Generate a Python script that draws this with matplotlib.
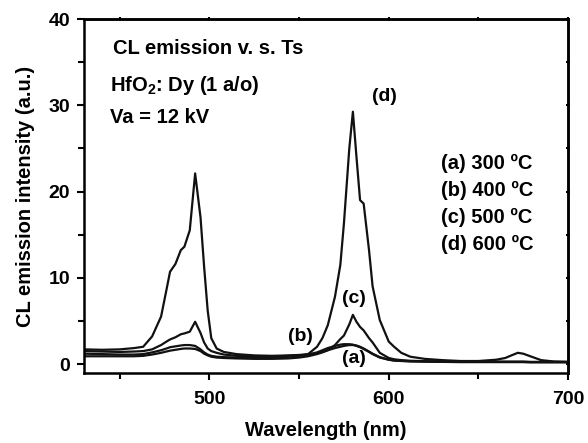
import matplotlib
matplotlib.use("Agg")
import matplotlib.pyplot as plt
from matplotlib.ticker import MultipleLocator, NullFormatter

plt.rcParams['font.family'] = ['Liberation Sans', 'DejaVu Sans']
plt.rcParams['font.weight'] = 'bold'
plt.rcParams['mathtext.fontset'] = 'custom'
plt.rcParams['mathtext.rm'] = 'Liberation Sans:bold'
plt.rcParams['mathtext.bf'] = 'Liberation Sans:bold'
plt.rcParams['mathtext.default'] = 'rm'

# Wavelength grid (nm)
wavelength = [430, 440, 450, 458, 463, 468, 473, 476, 478, 481, 484, 486, 489, 492,
              495, 497, 499, 501, 504, 508, 515, 525, 535, 544, 550, 555, 560, 563,
              566, 570, 573, 575, 578, 580, 582, 584, 586, 589, 591, 595, 600, 603,
              607, 612, 620, 630, 640, 650, 660, 665, 669, 672, 675, 679, 685, 692, 700]

# (a) 300 C
series_a = [0.9, 0.9, 0.9, 0.9, 0.95, 1.1, 1.3, 1.45, 1.55, 1.65, 1.75, 1.8, 1.8, 1.75,
            1.5, 1.2, 1.0, 0.85, 0.75, 0.7, 0.65, 0.6, 0.6, 0.65, 0.75, 0.9, 1.15, 1.35,
            1.6, 1.85, 2.0, 2.1, 2.2, 2.2, 2.15, 2.0, 1.8, 1.45, 1.2, 0.8, 0.5, 0.4,
            0.35, 0.3, 0.28, 0.25, 0.22, 0.22, 0.22, 0.22, 0.22, 0.22, 0.22, 0.2, 0.2, 0.2, 0.2]
# (b) 400 C
series_b = [1.2, 1.15, 1.1, 1.1, 1.15, 1.35, 1.6, 1.8, 1.95, 2.05, 2.15, 2.2, 2.2, 2.1,
            1.7, 1.35, 1.1, 0.95, 0.85, 0.8, 0.75, 0.75, 0.75, 0.85, 0.95, 1.1, 1.35, 1.6,
            1.85, 2.1, 2.25, 2.3, 2.3, 2.25, 2.1, 1.95, 1.75, 1.4, 1.15, 0.75, 0.5, 0.42,
            0.38, 0.33, 0.3, 0.27, 0.25, 0.25, 0.25, 0.25, 0.25, 0.25, 0.25, 0.22, 0.22, 0.22, 0.22]
# (c) 500 C
series_c = [1.5, 1.45, 1.4, 1.45, 1.5, 1.7, 2.2, 2.6, 2.85, 3.1, 3.45, 3.55, 3.75, 4.9,
            3.6, 2.5, 1.8, 1.5, 1.3, 1.1, 0.95, 0.85, 0.85, 0.95, 1.0, 1.1, 1.25, 1.4,
            1.6, 2.2, 2.9, 3.3, 4.6, 5.7, 4.9, 4.3, 3.9, 3.0, 2.5, 1.3, 0.7, 0.55,
            0.45, 0.38, 0.33, 0.3, 0.28, 0.28, 0.28, 0.28, 0.28, 0.28, 0.28, 0.25, 0.25, 0.25, 0.25]
# (d) 600 C
series_d = [1.7, 1.65, 1.7, 1.85, 2.0, 3.2, 5.5, 8.6, 10.7, 11.6, 13.2, 13.6, 15.5, 22.1,
            17.0, 11.3, 6.2, 3.0, 1.8, 1.4, 1.15, 1.0, 0.95, 1.0, 1.05, 1.15, 2.0, 3.0,
            4.5, 7.8, 11.5, 16.3, 25.0, 29.25, 24.0, 19.0, 18.6, 13.2, 9.0, 5.1, 2.6, 2.0,
            1.3, 0.85, 0.6, 0.45, 0.35, 0.35, 0.5, 0.7, 1.05, 1.3, 1.2, 0.9, 0.45, 0.3, 0.25]

curve_labels = ["(a)", "(b)", "(c)", "(d)"]
curve_label_pos = [(580.5, 0.6), (550.5, 3.2), (580.5, 7.6), (597.5, 31.0)]
legend_lines = ["(a) 300 \u00baC", "(b) 400 \u00baC", "(c) 500 \u00baC", "(d) 600 \u00baC"]

fig = plt.figure(figsize=(5.88, 4.43), dpi=100)
ax = fig.add_axes([84/588, 70/443, (568-84)/588, (373-19)/443])

for s in (series_a, series_b, series_c, series_d):
    ax.plot(wavelength, s, color='#111111', lw=1.6, solid_joinstyle='round')

ax.set_xlim(430, 700)
ax.set_ylim(-1.04, 40)
ax.xaxis.set_major_locator(MultipleLocator(100))
ax.xaxis.set_minor_locator(MultipleLocator(50))
ax.yaxis.set_major_locator(MultipleLocator(10))
ax.yaxis.set_minor_locator(MultipleLocator(5))
ax.tick_params(which='both', direction='out', width=1.5, labelsize=14)
ax.tick_params(which='major', length=5)
ax.tick_params(which='minor', length=4.5)
ax.tick_params(axis='x', which='major', pad=8)
ax.tick_params(axis='y', which='major', pad=5)
for t in ax.get_xticklabels() + ax.get_yticklabels():
    t.set_fontweight('bold')
for sp in ax.spines.values():
    sp.set_linewidth(1.8)

# small ticks crossing the top and right spines
top = ax.secondary_xaxis('top')
top.xaxis.set_major_locator(MultipleLocator(50))
top.xaxis.set_major_formatter(NullFormatter())
top.tick_params(direction='inout', length=3, width=1.5)
top.spines['top'].set_linewidth(1.8)
right = ax.secondary_yaxis('right')
right.yaxis.set_major_locator(MultipleLocator(5))
right.yaxis.set_major_formatter(NullFormatter())
right.tick_params(direction='inout', length=3, width=1.5)
right.spines['right'].set_linewidth(1.8)

ax.set_xlabel("Wavelength (nm)", fontsize=14.5, fontweight='bold', labelpad=9)
ax.set_ylabel("CL emission intensity (a.u.)", fontsize=14.5, fontweight='bold', labelpad=10)

for lab, (x, y) in zip(curve_labels, curve_label_pos):
    ax.text(x, y, lab, fontsize=14, fontweight='bold', ha='center', va='center')

ax.text(446.2, 36.6, "CL emission v. s. Ts", fontsize=14.5, fontweight='bold', va='center')
ax.text(444.5, 32.3, "HfO$_{2}$: Dy (1 a/o)", fontsize=14.5, fontweight='bold', va='center')
ax.text(444.5, 28.6, "Va = 12 kV", fontsize=14.5, fontweight='bold', va='center')

for i, lab in enumerate(legend_lines):
    ax.text(628.9, 23.3 - i * 3.13, lab, fontsize=14.5, fontweight='bold', va='center')

fig.savefig("out.png", dpi=100)
